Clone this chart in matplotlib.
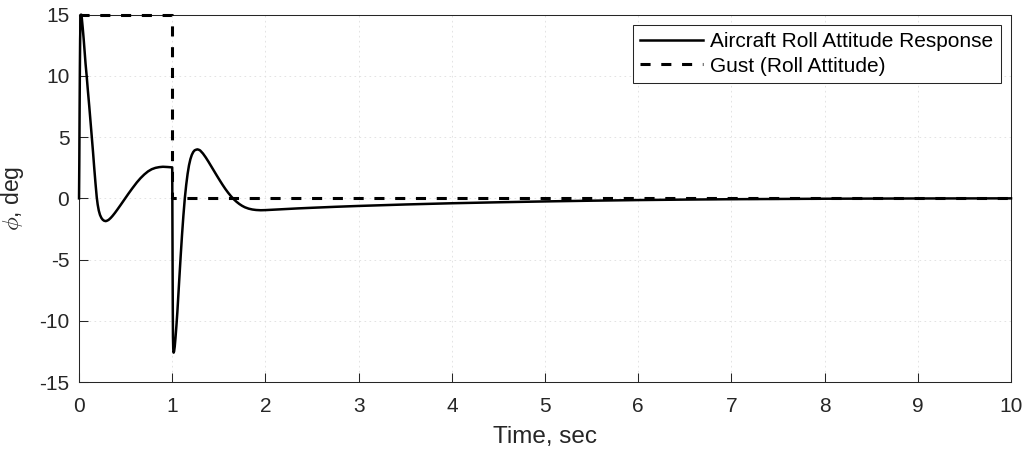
"""Aircraft roll attitude response to a rectangular roll gust (MATLAB-style plot)."""

import matplotlib
matplotlib.use("Agg")
import matplotlib.pyplot as plt
import numpy as np

# ------------------------------------------------------------------
# Data
# ------------------------------------------------------------------
time_resp = [
    0.000, 0.003, 0.006, 0.009, 0.012, 0.016, 0.020, 0.025, 0.030, 0.040,
    0.050, 0.060, 0.070, 0.082, 0.095, 0.110, 0.123, 0.136, 0.150, 0.163,
    0.177, 0.190, 0.200, 0.212, 0.225, 0.240, 0.255, 0.270, 0.287, 0.305,
    0.320, 0.340, 0.360, 0.385, 0.410, 0.450, 0.490, 0.530, 0.570, 0.620,
    0.660, 0.700, 0.740, 0.780, 0.820, 0.860, 0.900, 0.950, 1.000,
    1.002, 1.004, 1.006, 1.008, 1.011, 1.015, 1.020, 1.027, 1.035, 1.045,
    1.055, 1.065, 1.075, 1.090, 1.105, 1.120, 1.135, 1.150, 1.165, 1.180,
    1.195, 1.210, 1.225, 1.240, 1.255, 1.270, 1.285, 1.300, 1.330, 1.360,
    1.390, 1.420, 1.450, 1.480, 1.510, 1.540, 1.570, 1.600, 1.630, 1.660,
    1.690, 1.720, 1.750, 1.780, 1.820, 1.860, 1.900, 1.950, 2.000, 2.100,
    2.200, 2.350, 2.500, 2.750, 3.000, 3.500, 4.000, 4.500, 5.000, 5.500,
    6.000, 6.500, 7.000, 7.500, 8.000, 9.000, 10.000,
]
roll_resp = [
    0.00, 3.00, 7.00, 10.50, 13.00, 14.50, 15.00, 15.00, 14.70, 13.90,
    13.00, 12.00, 11.00, 10.00, 8.80, 7.50, 6.30, 5.10, 3.80, 2.50,
    1.20, 0.10, -0.50, -1.00, -1.35, -1.60, -1.75, -1.83, -1.86, -1.81,
    -1.74, -1.60, -1.43, -1.19, -0.93, -0.50, -0.06, 0.38, 0.80, 1.30,
    1.65, 1.95, 2.20, 2.38, 2.49, 2.55, 2.58, 2.56, 2.53,
    -1.50, -5.50, -9.00, -11.30, -12.30, -12.60, -12.50, -12.10, -11.40, -10.40,
    -9.30, -8.00, -6.70, -4.80, -3.00, -1.40, 0.00, 1.10, 2.00, 2.70,
    3.20, 3.55, 3.78, 3.92, 3.97, 4.00, 3.97, 3.91, 3.66, 3.34,
    2.98, 2.60, 2.22, 1.84, 1.47, 1.11, 0.77, 0.46, 0.18, -0.07,
    -0.28, -0.46, -0.61, -0.73, -0.84, -0.91, -0.95, -0.97, -0.96, -0.92,
    -0.88, -0.82, -0.77, -0.69, -0.62, -0.50, -0.40, -0.32, -0.25, -0.19,
    -0.14, -0.10, -0.07, -0.05, -0.03, -0.01, 0.00,
]

time_gust = [0.0, 1.0, 1.0, 10.0]
roll_gust = [15.0, 15.0, 0.0, 0.0]

x_ticks = np.arange(0, 11, 1)
y_ticks = np.arange(-15, 16, 5)

# ------------------------------------------------------------------
# Style
# ------------------------------------------------------------------
plt.rcParams["font.family"] = ["Liberation Sans", "DejaVu Sans"]
plt.rcParams["mathtext.fontset"] = "cm"
plt.rcParams["axes.unicode_minus"] = False

AX_COLOR = "#262626"
GRID_COLOR = "#dedede"

fig = plt.figure(figsize=(10.29, 4.55), dpi=100)
ax = fig.add_axes([0.0768, 0.1604, 0.9057, 0.8073])

ax.plot(time_resp, roll_resp, color="black", linewidth=1.8,
        label="Aircraft Roll Attitude Response", clip_on=False, zorder=3,
        solid_joinstyle="round")
ax.plot(time_gust, roll_gust, color="black", linewidth=2.2,
        linestyle=(0, (3.3, 3.5)), label="Gust (Roll Attitude)",
        clip_on=False, zorder=3)

ax.set_xlim(0, 10)
ax.set_ylim(-15, 15)
ax.set_xticks(x_ticks)
ax.set_yticks(y_ticks)

ax.grid(True, color=GRID_COLOR, linestyle=(0, (2, 4)), linewidth=0.6)
ax.set_axisbelow(True)

for spine in ax.spines.values():
    spine.set_color(AX_COLOR)
    spine.set_linewidth(0.75)

ax.tick_params(axis="both", direction="in", length=6.5, width=0.75,
               colors=AX_COLOR, labelsize=15, top=False, right=False)
ax.tick_params(axis="x", pad=11)
ax.tick_params(axis="y", pad=7)

ax.set_xlabel("Time, sec", fontsize=17.5, color=AX_COLOR, labelpad=7)
ax.set_ylabel(r"$\phi$, deg", fontsize=16.5, color=AX_COLOR)
ax.yaxis.set_label_coords(-0.057, 0.5)

leg = ax.legend(loc="upper right", fontsize=15, frameon=True, fancybox=False,
                framealpha=1.0, edgecolor=AX_COLOR, handlelength=3.0,
                handletextpad=0.35, borderpad=0.35, labelspacing=0.25,
                borderaxespad=0.5)
leg.get_frame().set_linewidth(0.75)
for txt in leg.get_texts():
    txt.set_color("black")

fig.savefig("out.png", dpi=100, facecolor="white")
